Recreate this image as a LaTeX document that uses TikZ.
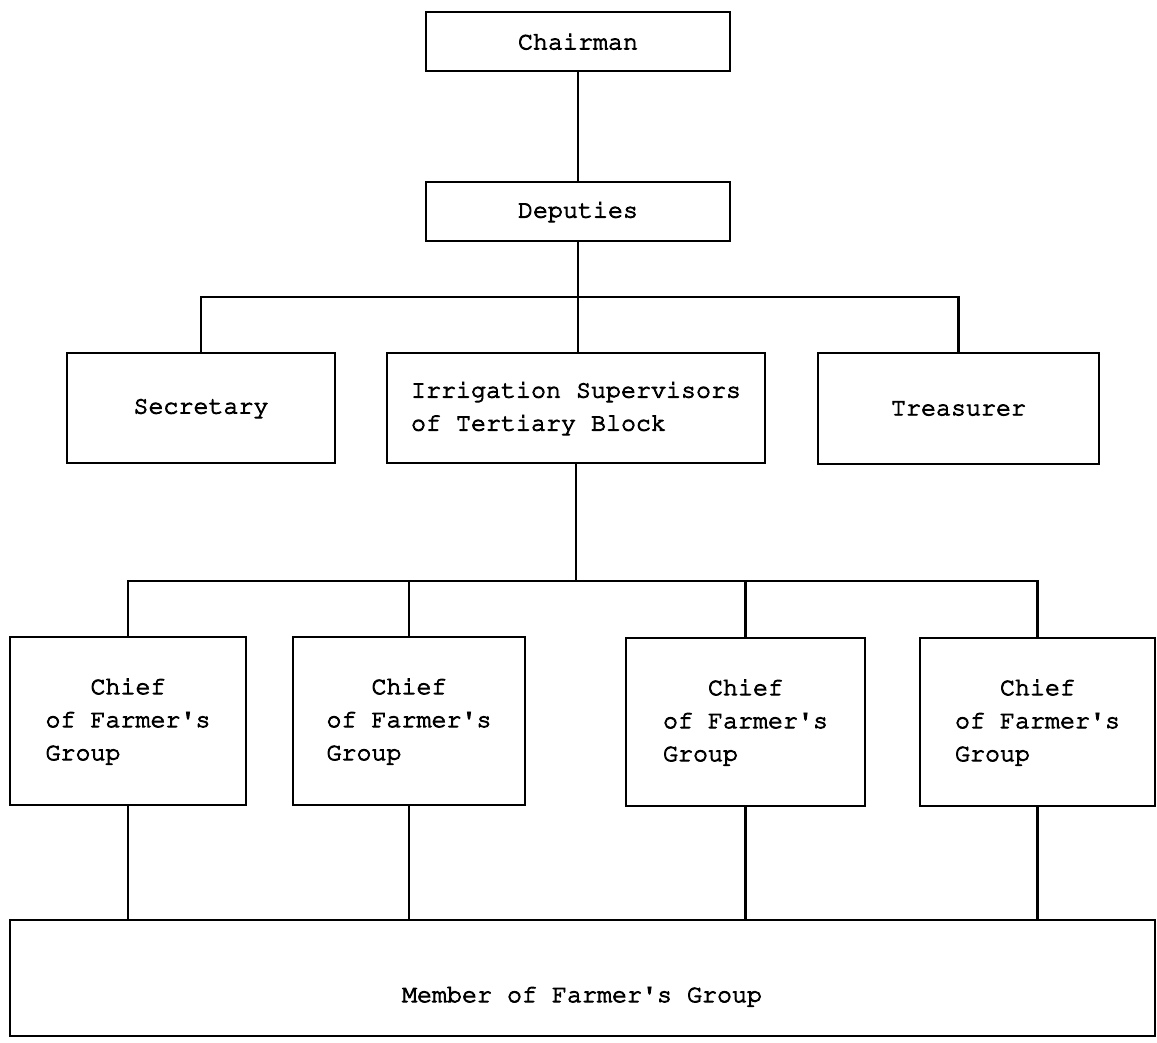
\documentclass[tikz,border=0pt]{standalone}
\usepackage[T1]{fontenc}
\usepackage{courier}
\newcommand\chartfont{\ttfamily\fontsize{25}{33}\selectfont\special{pdf:literal direct 2 Tr 0.9 w}}
\newcommand\apo{\textquotesingle}
\begin{document}
\begin{tikzpicture}[x=1pt,y=-1pt,
  box/.style={draw, line width=2.8pt, inner sep=0pt, font=\chartfont, align=left},
  conn/.style={line width=2.2pt},
  lbl/.style={font=\chartfont, inner sep=0pt}]
\useasboundingbox[fill=white] (0,0) rectangle (1157,1042);
% top levels
\node[box, minimum width=304pt, minimum height=59pt] (chair) at (578,41.5) {Chairman};
\node[box, minimum width=304pt, minimum height=59pt] (dep) at (578,211.5) {Deputies};
% middle level
\node[box, minimum width=268pt, minimum height=110pt] (sec) at (201,408) {Secretary};
\node[box, minimum width=378pt, minimum height=110pt] (irr) at (576,408) {Irrigation Supervisors\\of Tertiary Block};
\node[box, minimum width=281pt, minimum height=111pt] (trea) at (958.5,408.5) {Treasurer};
% chiefs
\node[box, minimum width=236pt, minimum height=168pt] (c1) at (128,721) {\hphantom{xxx}Chief\\of Farmer\apo s\\Group};
\node[box, minimum width=232pt, minimum height=168pt] (c2) at (409,721) {\hphantom{xxx}Chief\\of Farmer\apo s\\Group};
\node[box, minimum width=239pt, minimum height=168pt] (c3) at (745.5,722) {\hphantom{xxx}Chief\\of Farmer\apo s\\Group};
\node[box, minimum width=235pt, minimum height=168pt] (c4) at (1037.5,722) {\hphantom{xxx}Chief\\of Farmer\apo s\\Group};
% member
\node[box, minimum width=1145pt, minimum height=116pt] (mem) at (582.5,978) {};
\node[lbl] (memtext) at (582,996) {Member of Farmer\apo s Group};
% bars
\coordinate (b1) at (578,297);
\coordinate (b2) at (578,581);
% connectors
\draw[conn] (chair) -- (dep);
\draw[conn] (dep.south) -- (dep.south |- irr.north);
\draw[conn] (sec.north) -- (sec.north |- b1) -- (trea.north |- b1) -- (trea.north);
\draw[conn] (irr.south) -- (irr.south |- b2);
\draw[conn] (c1.north) -- (c1.north |- b2) -- (c4.north |- b2) -- (c4.north);
\draw[conn] (c2.north) -- (c2.north |- b2);
\draw[conn] (c3.north) -- (c3.north |- b2);
\draw[conn] (c1.south) -- (c1.south |- mem.north);
\draw[conn] (c2.south) -- (c2.south |- mem.north);
\draw[conn] (c3.south) -- (c3.south |- mem.north);
\draw[conn] (c4.south) -- (c4.south |- mem.north);
\end{tikzpicture}
\end{document}
